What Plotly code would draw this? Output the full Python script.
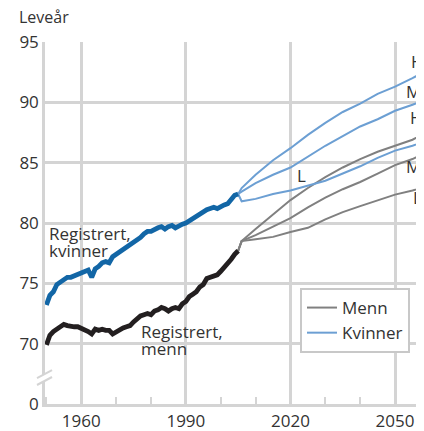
import plotly.graph_objects as go

# Registrert levealder (1950-2005)
reg_years = list(range(1950, 2006))
reg_kvinner = [73.2, 74.0, 74.3, 74.9, 75.1, 75.3, 75.5, 75.5, 75.6, 75.7,
               75.8, 76.0, 76.1, 75.5, 76.2, 76.4, 76.7, 76.8, 76.7, 77.2,
               77.4, 77.5, 77.7, 77.9, 78.1, 78.3, 78.6, 78.8, 79.1, 79.3,
               79.3, 79.5, 79.6, 79.7, 79.5, 79.7, 79.8, 79.6, 79.8, 79.9,
               80.0, 80.2, 80.3, 80.5, 80.8, 80.9, 81.1, 81.2, 81.3, 81.2,
               81.4, 81.5, 81.6, 81.9, 82.3, 82.4]
reg_menn = [69.9, 70.7, 71.0, 71.2, 71.4, 71.6, 71.5, 71.4, 71.4, 71.4,
            71.3, 71.2, 71.0, 70.8, 71.2, 71.1, 71.2, 71.1, 71.1, 70.8,
            71.0, 71.2, 71.3, 71.4, 71.5, 71.8, 72.1, 72.3, 72.4, 72.5,
            72.4, 72.7, 72.8, 73.0, 72.9, 72.7, 72.9, 73.0, 72.9, 73.3,
            73.5, 73.9, 74.1, 74.3, 74.7, 74.9, 75.4, 75.5, 75.6, 75.7,
            76.0, 76.3, 76.6, 77.0, 77.4, 77.7]

# Framskrivinger: H = høy, M = middels, L = lav
proj_years = [2005, 2006, 2010, 2015, 2020, 2025, 2030, 2035, 2040, 2045, 2050, 2055, 2060]
menn_h = [77.7, 78.5, 79.5, 80.7, 81.9, 82.9, 83.8, 84.6, 85.3, 85.9, 86.4, 86.9, 87.7]
menn_m = [77.7, 78.5, 79.0, 79.7, 80.4, 81.3, 82.1, 82.8, 83.4, 84.1, 84.8, 85.3, 86.0]
menn_l = [77.7, 78.5, 78.65, 78.85, 79.25, 79.6, 80.3, 80.9, 81.4, 81.9, 82.35, 82.7, 83.1]
kvinner_h = [82.4, 82.9, 84.0, 85.2, 86.2, 87.3, 88.3, 89.2, 89.9, 90.7, 91.3, 92.0, 92.8]
kvinner_m = [82.4, 82.6, 83.3, 84.0, 84.6, 85.5, 86.4, 87.2, 88.0, 88.6, 89.3, 89.8, 90.4]
kvinner_l = [82.4, 81.8, 82.0, 82.4, 82.7, 83.1, 83.5, 84.1, 84.7, 85.4, 86.0, 86.4, 86.9]

y_tickvals = [65, 70, 75, 80, 85, 90, 95]
y_ticktext = ["0", "70", "75", "80", "85", "90", "95"]

GRAY = "#808080"
LBLUE = "#6c9fd3"
DBLUE = "#1266a6"
BLACK = "#231f20"
GRID = "#d4d4d4"
TXT = "#333333"

fig = go.Figure()
fig.add_trace(go.Scatter(x=proj_years, y=menn_h, mode="lines", name="Menn",
                         line=dict(color=GRAY, width=2)))
fig.add_trace(go.Scatter(x=proj_years, y=menn_m, mode="lines", showlegend=False,
                         line=dict(color=GRAY, width=2)))
fig.add_trace(go.Scatter(x=proj_years, y=menn_l, mode="lines", showlegend=False,
                         line=dict(color=GRAY, width=2)))
fig.add_trace(go.Scatter(x=proj_years, y=kvinner_h, mode="lines", name="Kvinner",
                         line=dict(color=LBLUE, width=2)))
fig.add_trace(go.Scatter(x=proj_years, y=kvinner_m, mode="lines", showlegend=False,
                         line=dict(color=LBLUE, width=2)))
fig.add_trace(go.Scatter(x=proj_years, y=kvinner_l, mode="lines", showlegend=False,
                         line=dict(color=LBLUE, width=2)))
fig.add_trace(go.Scatter(x=reg_years, y=reg_kvinner, mode="lines", showlegend=False,
                         line=dict(color=DBLUE, width=4.8)))
fig.add_trace(go.Scatter(x=reg_years, y=reg_menn, mode="lines", showlegend=False,
                         line=dict(color=BLACK, width=4.8)))

# tekstetiketter
labels = [
    ("Registrert,", 1950.2, 79.13), ("kvinner", 1950.2, 77.72),
    ("Registrert,", 1976.45, 70.97), ("menn", 1976.45, 69.56),
    ("H", 2053.9, 93.42), ("M", 2052.7, 90.93),
    ("H", 2053.6, 88.74), ("M", 2052.7, 84.66), ("L", 2054.6, 82.1),
    ("L", 2021.2, 83.9),
]
for txt, xv, yv in labels:
    fig.add_annotation(x=xv, y=yv, text=txt, showarrow=False, xanchor="left",
                       yanchor="middle", font=dict(size=17, color=TXT))

fig.add_annotation(x=-0.0726, y=1.069, xref="paper", yref="paper", text="Leveår",
                   showarrow=False, xanchor="left", yanchor="middle",
                   font=dict(size=16, color=TXT))

# brudd i y-aksen
fig.add_shape(type="path", xref="paper", yref="paper",
              path="M -0.0211 0.0718 L 0.0185 0.0939 L 0.0185 0.0746 L -0.0211 0.0525 Z",
              fillcolor="white", line=dict(width=0), layer="above")
for y0, y1 in [(0.0718, 0.0939), (0.0525, 0.0746)]:
    fig.add_shape(type="line", xref="paper", yref="paper", x0=-0.0211, x1=0.0185,
                  y0=y0, y1=y1, line=dict(color=GRID, width=2), layer="above")

# siden har 8 px marg i nettleseren, så figuren er 8 px mindre
fig.update_layout(
    width=416, height=423,
    margin=dict(l=37, r=0, t=34, b=27),
    plot_bgcolor="white", paper_bgcolor="white",
    font=dict(family="Open Sans", size=17, color=TXT),
    legend=dict(x=0.6728, y=0.3204, xanchor="left", yanchor="top",
                bgcolor="white", bordercolor="#c8c8c8", borderwidth=2,
                font=dict(size=17, color=TXT), itemwidth=30, tracegroupgap=0),
)
fig.update_xaxes(range=[1949.6, 2058.3], tickmode="linear", tick0=1960, dtick=30,
                 showgrid=True, gridcolor=GRID, gridwidth=2.5,
                 showline=True, linecolor=GRID, linewidth=2.5,
                 ticks="inside", ticklen=7, tickcolor=GRID, tickwidth=2,
                 minor=dict(tick0=1960, dtick=10, ticks="inside", ticklen=7,
                            tickcolor=GRID, tickwidth=2, showgrid=False),
                 zeroline=False)
fig.update_yaxes(range=[65, 95], tickvals=y_tickvals, ticktext=y_ticktext,
                 showgrid=True, gridcolor=GRID, gridwidth=2.5,
                 showline=True, linecolor=GRID, linewidth=2.5,
                 ticks="", zeroline=False)

fig.write_html("out.html")
